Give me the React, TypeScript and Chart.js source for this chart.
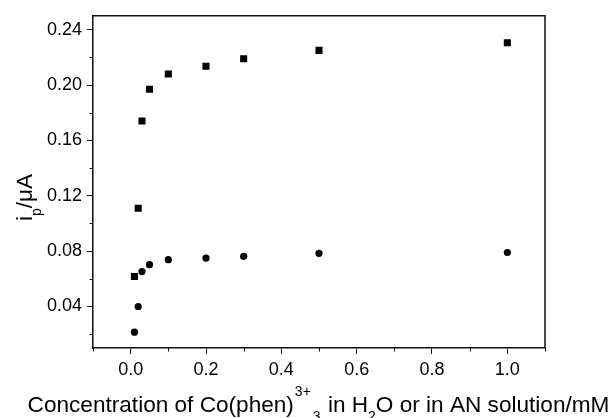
import React, { useEffect, useRef } from "react";
import { Chart, registerables } from "chart.js";

Chart.register(...registerables);

const concentrations = [0.01, 0.02, 0.03, 0.05, 0.1, 0.2, 0.3, 0.5, 1.0];
const squareSeries = [0.0616, 0.111, 0.174, 0.197, 0.208, 0.2136, 0.219, 0.225, 0.2305];
const circleSeries = [0.0214, 0.04, 0.0652, 0.0702, 0.0738, 0.075, 0.0762, 0.0784, 0.079];

const xMajorTicks = [0.0, 0.2, 0.4, 0.6, 0.8, 1.0];
const xMinorTicks = [-0.1, 0.1, 0.3, 0.5, 0.7, 0.9, 1.1];
const yMajorTicks = [0.04, 0.08, 0.12, 0.16, 0.2, 0.24];
const yMinorTicks = [0.02, 0.06, 0.1, 0.14, 0.18, 0.22];

const FONT = "'Liberation Sans', Arial, sans-serif";

type Seg = { t: string; m?: "sup" | "sub"; gap?: number };

const xTitle: Seg[] = [
  { t: "Concentration of Co(phen)" },
  { t: "3+", m: "sup", gap: 1 },
  { t: "3", m: "sub", gap: 2 },
  { t: " in H", gap: 1 },
  { t: "2", m: "sub" },
  { t: "O or in AN solution/mM" },
];
const yTitle: Seg[] = [{ t: "i" }, { t: "p", m: "sub" }, { t: "/\u03bcA" }];

function drawRich(ctx: CanvasRenderingContext2D, segs: Seg[], cx: number, baseY: number, size: number) {
  const small = 14;
  const widths = segs.map((s) => {
    ctx.font = `${s.m ? small : size}px ${FONT}`;
    return ctx.measureText(s.t).width + (s.gap || 0);
  });
  const total = widths.reduce((a, b) => a + b, 0);
  let x = cx - total / 2;
  ctx.textBaseline = "alphabetic";
  ctx.textAlign = "left";
  segs.forEach((s, i) => {
    ctx.font = `${s.m ? small : size}px ${FONT}`;
    const dy = s.m === "sup" ? -size * 0.72 : s.m === "sub" ? size * 0.4 : 0;
    ctx.fillText(s.t, x + (s.gap || 0), baseY + dy);
    x += widths[i];
  });
}

const framePlugin = {
  id: "frameAndTitles",
  afterDraw(chart: any) {
    const { ctx, chartArea } = chart;
    const { left, top, right, bottom } = chartArea;
    const xs = chart.scales.x;
    const ys = chart.scales.y;
    ctx.save();
    ctx.strokeStyle = "#111";
    ctx.lineWidth = 1.5;
    ctx.beginPath();
    ctx.moveTo(left, top);
    ctx.lineTo(right, top);
    ctx.lineTo(right, bottom);
    ctx.stroke();

    ctx.lineWidth = 1;
    ctx.beginPath();
    xMinorTicks.forEach((v) => {
      const px = Math.round(xs.getPixelForValue(v)) + 0.5;
      ctx.moveTo(px, bottom);
      ctx.lineTo(px, bottom + 3.5);
    });
    yMinorTicks.forEach((v) => {
      const py = Math.round(ys.getPixelForValue(v)) + 0.5;
      ctx.moveTo(left, py);
      ctx.lineTo(left - 3.5, py);
    });
    ctx.stroke();

    ctx.fillStyle = "#000";
    drawRich(ctx, xTitle, 318.5, 412, 22.6);

    ctx.save();
    ctx.translate(31.5, 197.5);
    ctx.rotate(-Math.PI / 2);
    drawRich(ctx, yTitle, 0, 0, 22.6);
    ctx.restore();

    ctx.restore();
  },
};

export default function App() {
  const ref = useRef<HTMLCanvasElement>(null);
  useEffect(() => {
    if (!ref.current) return;
    const chart = new Chart(ref.current, {
      type: "scatter",
      data: {
        datasets: [
          {
            label: "H2O",
            data: concentrations.map((c, i) => ({ x: c, y: squareSeries[i] })),
            pointStyle: "rect",
            pointRadius: 5,
            pointBackgroundColor: "#000",
            pointBorderColor: "#000",
            pointBorderWidth: 0,
          },
          {
            label: "AN",
            data: concentrations.map((c, i) => ({ x: c, y: circleSeries[i] })),
            pointStyle: "circle",
            pointRadius: 3.6,
            pointBackgroundColor: "#000",
            pointBorderColor: "#000",
            pointBorderWidth: 0,
          },
        ],
      },
      options: {
        responsive: false,
        animation: false,
        layout: { padding: { top: 12, right: 71, left: 0, bottom: 0 } },
        plugins: { legend: { display: false }, tooltip: { enabled: false } },
        scales: {
          x: {
            type: "linear",
            min: -0.1,
            max: 1.1,
            afterBuildTicks: (s: any) => {
              s.ticks = xMajorTicks.map((v) => ({ value: v }));
            },
            afterFit: (s: any) => {
              s.height = 70;
            },
            grid: { drawOnChartArea: false, tickLength: 6, color: "#111", tickWidth: 1 },
            border: { display: true, color: "#111", width: 1.5 },
            ticks: {
              color: "#000",
              font: { family: FONT, size: 18 },
              padding: 5,
              maxRotation: 0,
              autoSkip: false,
              callback: (v: any) => Number(v).toFixed(1),
            },
          },
          y: {
            type: "linear",
            min: 0.01,
            max: 0.25,
            afterBuildTicks: (s: any) => {
              s.ticks = yMajorTicks.map((v) => ({ value: v }));
            },
            afterFit: (s: any) => {
              s.width = 93;
            },
            grid: { drawOnChartArea: false, tickLength: 6, color: "#111", tickWidth: 1 },
            border: { display: true, color: "#111", width: 1.5 },
            ticks: {
              color: "#000",
              font: { family: FONT, size: 18 },
              padding: 5,
              autoSkip: false,
              callback: (v: any) => Number(v).toFixed(2),
            },
          },
        },
      },
      plugins: [framePlugin],
    });
    return () => chart.destroy();
  }, []);
  return (
    <canvas
      ref={ref}
      width={616}
      height={418}
      style={{ position: "fixed", left: 0, top: 0, display: "block", background: "#fff" }}
    />
  );
}
